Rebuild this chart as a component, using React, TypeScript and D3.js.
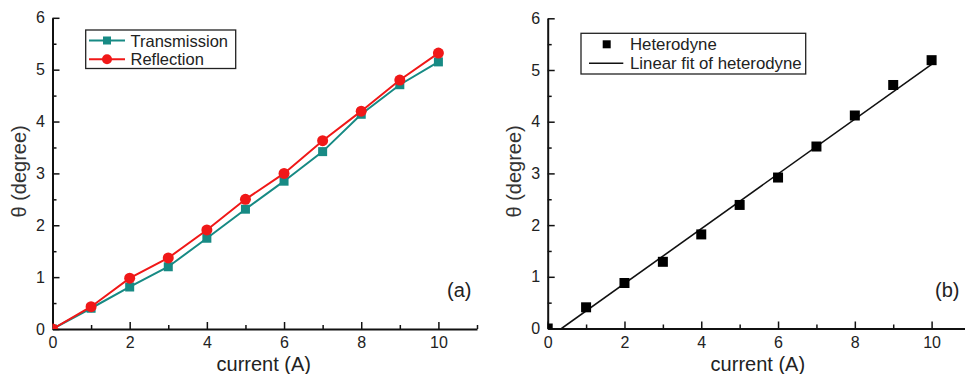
import { useEffect, useRef } from 'react';
import * as d3 from 'd3';

// current (A) on the x axis, shared by every series
const currentA = [0, 1, 2, 3, 4, 5, 6, 7, 8, 9, 10];
const transmission = [0, 0.4, 0.81, 1.2, 1.75, 2.31, 2.85, 3.42, 4.14, 4.71, 5.15];
const reflection = [0, 0.43, 0.98, 1.37, 1.91, 2.5, 3.0, 3.63, 4.2, 4.8, 5.32];
const heterodyne = [0, 0.41, 0.88, 1.29, 1.82, 2.39, 2.92, 3.52, 4.12, 4.71, 5.19];

// end points of the linear fit
const fitCurrent = [0.36, 10];
const fitTheta = [0, 5.11];

const xTicks = [0, 2, 4, 6, 8, 10];
const xMinor = [1, 3, 5, 7, 9, 11];
const yTicks = [0, 1, 2, 3, 4, 5, 6];
const yMinor = [0.5, 1.5, 2.5, 3.5, 4.5, 5.5];

const FONT = "'Liberation Sans', Arial, sans-serif";
const TEAL = '#178a84';
const RED = '#f01818';

type Sel = d3.Selection<SVGGElement, unknown, null, undefined>;

function drawAxes(g: Sel, x: d3.ScaleLinear<number, number>, y: d3.ScaleLinear<number, number>, id: string) {
  const [x0] = x.range();
  const [y0] = y.range();

  const style = (a: Sel) => {
    a.attr('font-size', 16).attr('font-family', FONT);
    a.select('.domain').attr('stroke', '#111').attr('stroke-width', 2);
    a.selectAll('.tick line').attr('stroke', '#111').attr('stroke-width', 1.5);
    a.selectAll('.tick text').attr('fill', '#222');
  };

  g.append('g')
    .attr('transform', `translate(0,${y0})`)
    .call(d3.axisBottom(x).tickValues(xMinor).tickSize(-4).tickSizeOuter(0).tickFormat(() => ''))
    .call((a) => a.select('.domain').remove())
    .call(style);
  g.append('g')
    .attr('transform', `translate(${x0},0)`)
    .call(d3.axisLeft(y).tickValues(yMinor).tickSize(-4).tickSizeOuter(0).tickFormat(() => ''))
    .call((a) => a.select('.domain').remove())
    .call(style);

  g.append('g')
    .attr('transform', `translate(0,${y0})`)
    .call(d3.axisBottom(x).tickValues(xTicks).tickSize(-7).tickSizeOuter(0).tickPadding(8).tickFormat(d3.format('d')))
    .call(style);
  g.append('g')
    .attr('transform', `translate(${x0},0)`)
    .call(d3.axisLeft(y).tickValues(yTicks).tickSize(-7).tickSizeOuter(0).tickPadding(7.5).tickFormat(d3.format('d')))
    .call(style);

  const [xa, xb] = x.range();
  const [ya, yb] = y.range();
  g.append('clipPath')
    .attr('id', id)
    .append('rect')
    .attr('x', xa)
    .attr('y', yb)
    .attr('width', xb - xa)
    .attr('height', ya - yb);

  g.append('text')
    .attr('x', (xa + xb) / 2 - 1)
    .attr('y', 371)
    .attr('text-anchor', 'middle')
    .attr('font-size', 20)
    .attr('font-family', FONT)
    .attr('fill', '#222')
    .text('current (A)');

  g.append('text')
    .attr('transform', `translate(${xa - 26.5},${(ya + yb) / 2 - 2}) rotate(-90)`)
    .attr('text-anchor', 'middle')
    .attr('font-size', 20)
    .attr('font-family', FONT)
    .attr('fill', '#333')
    .text('θ (degree)');
}

export default function App() {
  const svgRef = useRef<SVGSVGElement>(null);

  useEffect(() => {
    if (!svgRef.current) return;
    const svg = d3.select(svgRef.current);
    svg.selectAll('*').remove();

    // ---- panel (a)
    const xa = d3.scaleLinear().domain([0, 11]).range([52.5, 477]);
    const ya = d3.scaleLinear().domain([0, 6]).range([329, 17.8]);
    const ga = svg.append('g');
    drawAxes(ga, xa, ya, 'clip-a');

    const line = (x: d3.ScaleLinear<number, number>, y: d3.ScaleLinear<number, number>) =>
      d3
        .line<number>()
        .x((_, i) => x(currentA[i]))
        .y((d) => y(d));

    const marks = ga.append('g').attr('clip-path', 'url(#clip-a)');
    marks
      .append('path')
      .attr('d', line(xa, ya)(transmission))
      .attr('fill', 'none')
      .attr('stroke', TEAL)
      .attr('stroke-width', 2);
    marks
      .selectAll('.tr')
      .data(transmission)
      .join('rect')
      .attr('x', (_, i) => xa(currentA[i]) - 4.5)
      .attr('y', (d) => ya(d) - 4.5)
      .attr('width', 9)
      .attr('height', 9)
      .attr('fill', TEAL);
    marks
      .append('path')
      .attr('d', line(xa, ya)(reflection))
      .attr('fill', 'none')
      .attr('stroke', RED)
      .attr('stroke-width', 2);
    marks
      .selectAll('.rf')
      .data(reflection)
      .join('circle')
      .attr('cx', (_, i) => xa(currentA[i]))
      .attr('cy', (d) => ya(d))
      .attr('r', 5.5)
      .attr('fill', RED);

    // legend (a)
    const la = ga.append('g').attr('font-family', FONT).attr('font-size', 16.5);
    la.append('rect')
      .attr('x', 85.7)
      .attr('y', 30)
      .attr('width', 150)
      .attr('height', 38.5)
      .attr('fill', '#fff')
      .attr('stroke', '#222')
      .attr('stroke-width', 1.3);
    la.append('line').attr('x1', 89).attr('x2', 125).attr('y1', 40.5).attr('y2', 40.5).attr('stroke', TEAL).attr('stroke-width', 2);
    la.append('rect').attr('x', 103).attr('y', 36.5).attr('width', 8).attr('height', 8).attr('fill', TEAL);
    la.append('text').attr('x', 130.5).attr('y', 46.5).attr('fill', '#222').text('Transmission');
    la.append('line').attr('x1', 89).attr('x2', 125).attr('y1', 59.3).attr('y2', 59.3).attr('stroke', RED).attr('stroke-width', 2);
    la.append('circle').attr('cx', 107).attr('cy', 59.3).attr('r', 5).attr('fill', RED);
    la.append('text').attr('x', 130.5).attr('y', 65.3).attr('fill', '#222').text('Reflection');

    ga.append('text')
      .attr('x', 447)
      .attr('y', 297)
      .attr('font-size', 20)
      .attr('font-family', FONT)
      .attr('fill', '#222')
      .text('(a)');

    // ---- panel (b)
    const xb = d3.scaleLinear().domain([0, 11]).range([547.7, 970]);
    const yb = d3.scaleLinear().domain([0, 6]).range([328.5, 18.3]);
    const gb = svg.append('g');
    drawAxes(gb, xb, yb, 'clip-b');

    const marksB = gb.append('g').attr('clip-path', 'url(#clip-b)');
    marksB
      .append('path')
      .attr(
        'd',
        d3
          .line<number>()
          .x((_, i) => xb(fitCurrent[i]))
          .y((d) => yb(d))(fitTheta)
      )
      .attr('stroke', '#111')
      .attr('stroke-width', 1.6);
    marksB
      .selectAll('.het')
      .data(heterodyne)
      .join('rect')
      .attr('x', (_, i) => xb(currentA[i]) - 5)
      .attr('y', (d) => yb(d) - 5)
      .attr('width', 10)
      .attr('height', 10)
      .attr('fill', '#000');

    // legend (b)
    const lb = gb.append('g').attr('font-family', FONT).attr('font-size', 16.8);
    lb.append('rect')
      .attr('x', 581)
      .attr('y', 33.3)
      .attr('width', 224.7)
      .attr('height', 40.7)
      .attr('fill', '#fff')
      .attr('stroke', '#222')
      .attr('stroke-width', 1.3);
    lb.append('rect').attr('x', 602.7).attr('y', 40.3).attr('width', 8).attr('height', 8).attr('fill', '#000');
    lb.append('text').attr('x', 630).attr('y', 50.3).attr('fill', '#222').text('Heterodyne');
    lb.append('line').attr('x1', 589).attr('x2', 623.3).attr('y1', 63.3).attr('y2', 63.3).attr('stroke', '#111').attr('stroke-width', 1.6);
    lb.append('text').attr('x', 630).attr('y', 69.3).attr('fill', '#222').text('Linear fit of heterodyne');

    gb.append('text')
      .attr('x', 935)
      .attr('y', 297)
      .attr('font-size', 20)
      .attr('font-family', FONT)
      .attr('fill', '#222')
      .text('(b)');
  }, []);

  return (
    <svg
      ref={svgRef}
      width={965}
      height={374}
      style={{ position: 'absolute', left: 0, top: 0, background: '#fff' }}
    ></svg>
  );
}
